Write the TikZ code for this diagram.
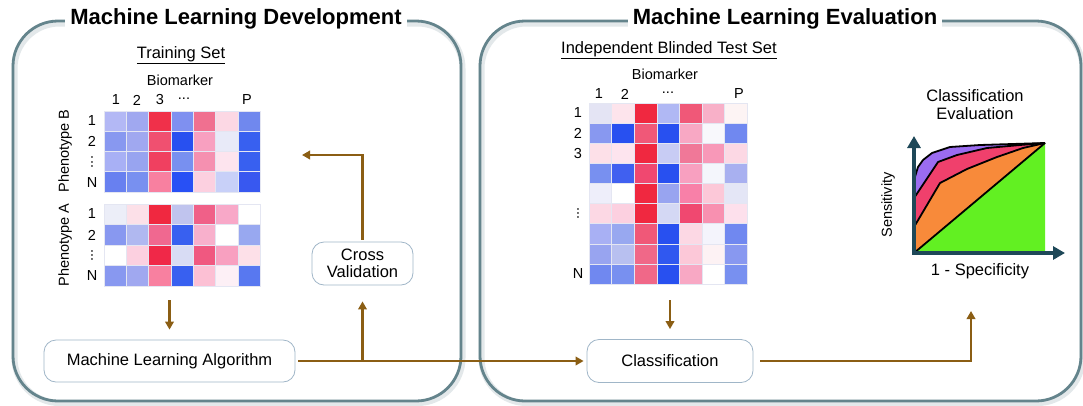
\documentclass[tikz,border=0pt]{standalone}
\usepackage{fontspec}
\setmainfont{Liberation Sans}
\usetikzlibrary{arrows.meta}
\definecolor{panelc}{RGB}{100,132,140}
\definecolor{arrowc}{RGB}{139,94,20}
\definecolor{boxc}{RGB}{160,182,200}
\definecolor{axisc}{RGB}{30,72,88}
\definecolor{gridc}{RGB}{228,230,242}
\definecolor{rocgreen}{RGB}{98,240,34}
\definecolor{rocorange}{RGB}{248,138,58}
\definecolor{rocpink}{RGB}{240,64,108}
\definecolor{rocpurple}{RGB}{155,108,240}
\newcommand{\ftitle}{\fontsize{22}{24}\selectfont\bfseries}
\newcommand{\fbody}{\fontsize{16.5}{17.5}\selectfont}
\newcommand{\fsmall}{\fontsize{14.5}{16}\selectfont}
\newcommand{\drawheat}[5]{%
  \foreach \rw [count=\r] in {#5}{%
    \foreach \hx [count=\c] in \rw {%
      \definecolor{tmpc}{HTML}{\hx}%
      \fill[tmpc, draw=gridc, line width=0.4pt] ({#1+(\c-1)*#3},{#2+(\r-1)*#4}) rectangle ++(#3,#4);
    }%
  }%
}
\tikzset{
  panel/.style={draw=panelc, line width=2.8pt, rounded corners=45pt},
  panelshadow/.style={draw=panelc, opacity=0.18, line width=6pt, rounded corners=45pt},
  ptitle/.style={fill=white, inner xsep=5pt, inner ysep=2pt, font=\ftitle},
  stepbox/.style={draw=boxc, line width=0.8pt, rounded corners=12pt, fill=white, font=\fbody, align=center},
  arr/.style={draw=arrowc, line width=2.2pt, -{Triangle[width=8.5pt,length=8pt]}},
  lbl/.style={font=\fsmall, inner sep=0pt},
  txt/.style={font=\fbody, inner sep=0pt, align=center},
  hm/.style={inner sep=0pt, draw=none},
  axis/.style={draw=axisc, line width=3.2pt, -{Triangle[width=13pt,length=12pt]}},
  curve/.style={draw=black, line width=1.8pt, line join=round},
}
\begin{document}
\begin{tikzpicture}[x=1pt,y=-1pt]
\useasboundingbox (0,0) rectangle (1083,405);
\fill[white] (0,0) rectangle (1083,405);

% panels
\draw[panelshadow] (14.5,23.5) rectangle (462.5,403);
\draw[panelshadow] (481.5,23.5) rectangle (1082.5,403);
\draw[panel] (13,21) rectangle (461,401);
\draw[panel] (480,21) rectangle (1081,401);
\node[ptitle] (t1) at (236,19) {Machine Learning Development};
\node[ptitle] (t2) at (785,19) {Machine Learning Evaluation};

% left: training set
\node[txt] (ts) at (181,55) {\underline{Training Set}};
\node[lbl] (bm1) at (180,80) {Biomarker};
\node[lbl] (c11) at (116,100) {1};
\node[lbl] (c12) at (137,100) {2};
\node[lbl] (c13) at (160,100) {3};
\node[lbl] (c14) at (184,99) {...};
\node[lbl] (c1p) at (247,100) {P};

\drawheat{104}{110.7}{22.29}{20.3}{%
 {B3B8F5,A0A8F0,F0304A,7F90F0,F07090,FCD8E4,7088EE},
 {8898F0,A0A8F0,F05070,2850F0,F8A0C0,E8EAF8,3860F0},
 {A8B0F5,98A4F0,F04060,7890F0,F590B0,FDE4EE,3860F0},
 {6880F0,7890F0,F880A0,2850F5,FCD0E0,C8D0F8,3858F0}}
\drawheat{104}{204}{22.29}{20.5}{%
 {ECEEF8,FCE0E8,F02840,C0C4EE,F06088,F8A8C8,FFFFFF},
 {8898F0,B0B8F0,F06890,3860F0,F8B0CC,FFFFFF,98A8F0},
 {FFFFFF,FCD0E0,F02848,D8DCF4,F05880,F8A0C0,FDE0E8},
 {8898F0,A0A8F0,F880A0,3860F0,FCC0D4,FDF0F6,5878F0}}
\node[hm, minimum width=156pt, minimum height=81.2pt] (hmB) at (182,151.3) {};
\node[hm, minimum width=156pt, minimum height=82pt] (hmA) at (182,245) {};

\node[lbl] (rb1) at (92,121) {1};
\node[lbl] (rb2) at (92,141.5) {2};
\node[lbl, rotate=90] (rb3) at (92,162) {...};
\node[lbl] (rbn) at (92,182.5) {N};
\node[lbl] (ra1) at (92,214) {1};
\node[lbl] (ra2) at (92,235) {2};
\node[lbl, rotate=90] (ra3) at (92,255.5) {...};
\node[lbl] (ran) at (92,276) {N};
\node[lbl, rotate=90] (phb) at (65,151) {Phenotype B};
\node[lbl, rotate=90] (pha) at (65,245) {Phenotype A};

% boxes
\node[stepbox, minimum width=251pt, minimum height=42pt] (mla) at (169.5,361) {Machine Learning Algorithm};
\node[stepbox, minimum width=101pt, minimum height=43pt] (cv) at (362.5,263.5) {Cross\\Validation};
\node[stepbox, minimum width=166pt, minimum height=43pt] (cls) at (670,361) {Classification};

% right: test set
\node[txt] (its) at (669,50) {\underline{Independent Blinded Test Set}};
\node[lbl] (bm2) at (665,74) {Biomarker};
\node[lbl] (c21) at (599,94) {1};
\node[lbl] (c22) at (625,94) {2};
\node[lbl] (c24) at (668,93) {...};
\node[lbl] (c2p) at (739,94) {P};
\drawheat{589}{103}{22.57}{20.1}{%
 {E4E4F4,FDE4EC,F02840,B0B8F4,F05878,F8B0C8,FDF4F4},
 {8898F0,2850F0,F05878,2850F0,F8A8C4,F8F8FC,7088F0},
 {FDE0E8,FDE4EE,F02840,C8CCF4,F07898,F898B8,FCD8E4},
 {7890F0,4060F0,F04870,2850F0,F8A0C0,F4F6FC,A8B0F0},
 {EEEEFA,FFFFFF,F02840,98A4F0,F880A8,FCC8D8,E4E6F6},
 {FCD8E4,FCD0E0,F02840,D4D8F4,F04870,F890B0,FDE0EC},
 {A8B0F4,98A8F0,F05878,2850F0,FCD8E4,F4F4FC,7088F0},
 {98A4F0,B8C0F0,F06888,3058F0,FCC8D8,FDF2F4,8898F0},
 {7088F0,7890F0,F06888,2850F0,F8A8C4,FFFFFF,7890F0}}
\node[hm, minimum width=158pt, minimum height=181pt] (hmT) at (668,193.5) {};
\node[lbl] (rt1) at (578,113) {1};
\node[lbl] (rt2) at (578,133.5) {2};
\node[lbl] (rt3) at (578,153.5) {3};
\node[lbl, rotate=90] (rt6) at (578,213.5) {...};
\node[lbl] (rtn) at (578,274) {N};

% ROC
\node[txt] (ce) at (975,104.5) {Classification\\Evaluation};
\fill[rocgreen] (914,253) -- (1045,143) -- (1045,253) -- cycle;
\fill[rocorange] (914,253) -- (914,227) -- (940,183) -- (967,169) -- (997,157) -- (1023,148) -- (1045,143) -- cycle;
\fill[rocpink] (914,227) -- (914,198) -- (938,162) -- (957,155) -- (987,148) -- (1020,145) -- (1045,143) -- (1023,148) -- (997,157) -- (967,169) -- (940,183) -- cycle;
\fill[rocpurple] (914,198) -- (914,180) -- (918,167) -- (923,160) -- (932,153) -- (950,147) -- (980,145) -- (1045,143) -- (1020,145) -- (987,148) -- (957,155) -- (938,162) -- cycle;
\draw[curve] (914,253) -- (1045,143);
\draw[curve] (914,227) -- (940,183) -- (967,169) -- (997,157) -- (1023,148) -- (1045,143);
\draw[curve] (914,198) -- (938,162) -- (957,155) -- (987,148) -- (1020,145) -- (1045,143);
\draw[curve] (914,180) -- (918,167) -- (923,160) -- (932,153) -- (950,147) -- (980,145) -- (1045,143);
\draw[axis] (914,254.6) -- (914,136);
\draw[axis] (912.4,253) -- (1065,253);
\node[lbl, rotate=90] (sens) at (888,205) {Sensitivity};
\node[txt] (spec) at (980,271) {1 - Specificity};

% connectors
\coordinate (cvtip) at (302,155);
\coordinate (roctip) at (971,311);
\draw[arr, shorten <=14pt, shorten >=10pt] (mla.north |- hmA.south) -- (mla.north);
\draw[arr, shorten <=16pt, shorten >=10pt] (cls.north |- hmT.south) -- (cls.north);
\draw[arr, shorten <=2pt] (cv.north) |- (cvtip);
\draw[arr, shorten <=3pt, shorten >=3pt] (mla.east) -- (cls.west);
\draw[arr, shorten >=16pt] (cv.south |- mla.east) -- (cv.south);
\draw[arr, shorten <=7pt] (cls.east) -| (roctip);
\end{tikzpicture}
\end{document}
